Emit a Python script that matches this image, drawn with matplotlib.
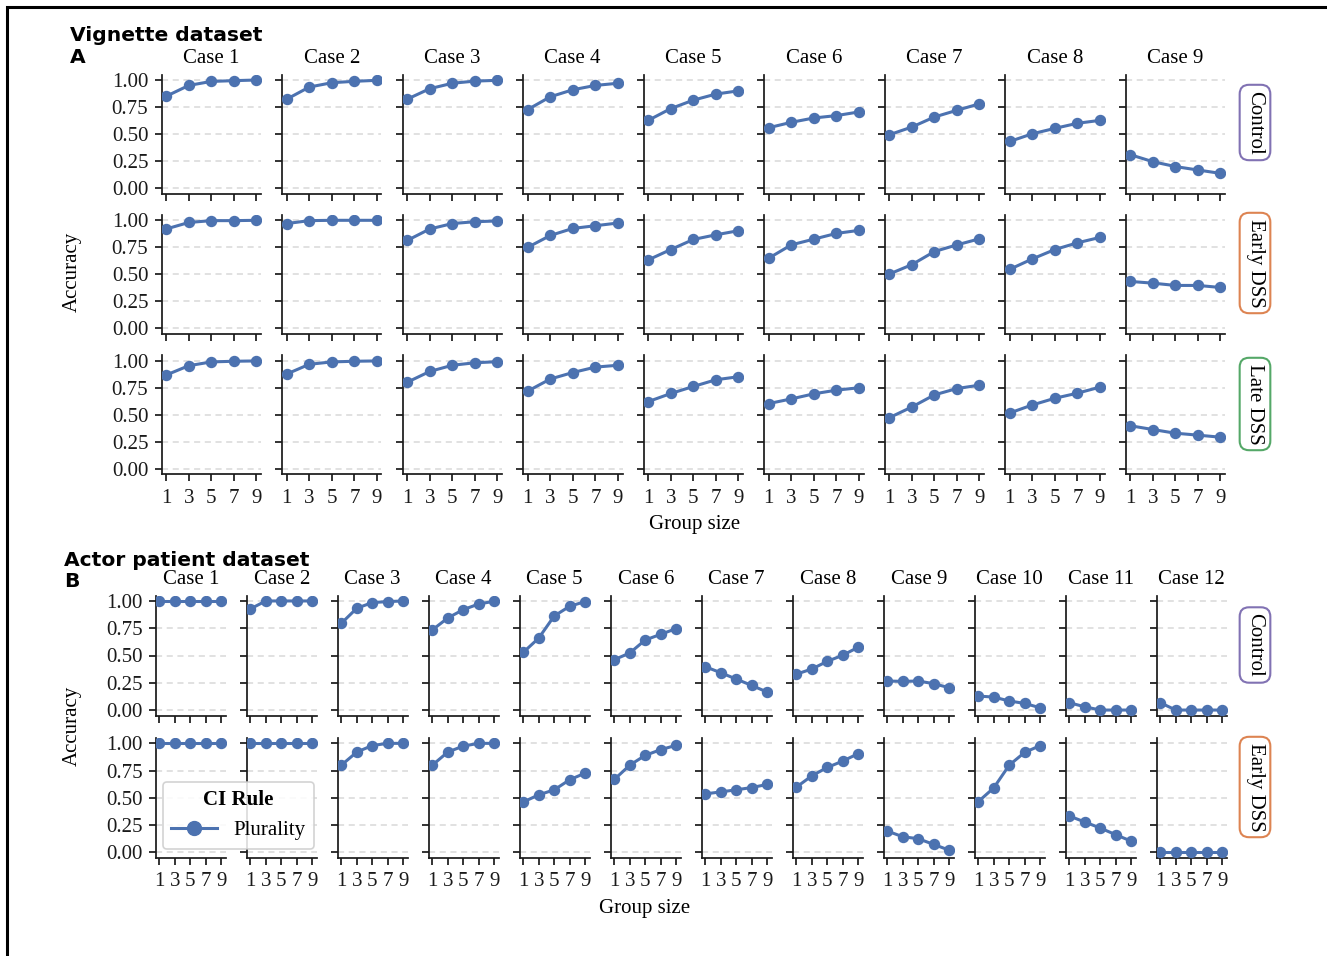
import matplotlib
matplotlib.use("Agg")
import matplotlib.pyplot as plt
from matplotlib.lines import Line2D

# ---------------- data ----------------
group_sizes = [1, 3, 5, 7, 9]
x_ticks = [1, 3, 5, 7, 9]
y_ticks = [0.0, 0.25, 0.5, 0.75, 1.0]

vig_cases = [f"Case {i}" for i in range(1, 10)]
act_cases = [f"Case {i}" for i in range(1, 13)]

vig_rows = ["Control", "Early DSS", "Late DSS"]
act_rows = ["Control", "Early DSS"]

vig_control = [
    [0.85, 0.95, 0.987, 0.994, 1.0],
    [0.823, 0.935, 0.975, 0.988, 0.997],
    [0.823, 0.92, 0.97, 0.99, 0.997],
    [0.727, 0.845, 0.91, 0.95, 0.97],
    [0.627, 0.736, 0.814, 0.87, 0.90],
    [0.559, 0.609, 0.649, 0.671, 0.705],
    [0.494, 0.565, 0.658, 0.72, 0.78],
    [0.432, 0.503, 0.553, 0.60, 0.627],
    [0.31, 0.245, 0.20, 0.168, 0.137],
]
vig_early = [
    [0.92, 0.98, 0.997, 0.997, 1.0],
    [0.97, 0.997, 1.0, 1.0, 1.0],
    [0.814, 0.92, 0.97, 0.987, 0.994],
    [0.75, 0.86, 0.925, 0.95, 0.975],
    [0.634, 0.73, 0.823, 0.866, 0.904],
    [0.65, 0.773, 0.826, 0.879, 0.907],
    [0.503, 0.59, 0.711, 0.773, 0.829],
    [0.547, 0.643, 0.73, 0.792, 0.842],
    [0.435, 0.419, 0.398, 0.398, 0.379],
]
vig_late = [
    [0.867, 0.953, 0.988, 0.994, 0.997],
    [0.876, 0.966, 0.988, 0.994, 0.997],
    [0.80, 0.90, 0.957, 0.98, 0.99],
    [0.718, 0.83, 0.89, 0.94, 0.957],
    [0.621, 0.696, 0.761, 0.823, 0.851],
    [0.603, 0.646, 0.693, 0.727, 0.749],
    [0.472, 0.571, 0.683, 0.742, 0.773],
    [0.516, 0.59, 0.652, 0.699, 0.755],
    [0.398, 0.363, 0.329, 0.311, 0.292],
]
act_control = [
    [1.0, 1.0, 1.0, 1.0, 1.0],
    [0.927, 1.0, 1.0, 1.0, 1.0],
    [0.795, 0.933, 0.985, 0.994, 1.0],
    [0.734, 0.844, 0.92, 0.972, 0.997],
    [0.529, 0.66, 0.862, 0.951, 0.994],
    [0.462, 0.523, 0.642, 0.694, 0.746],
    [0.397, 0.342, 0.284, 0.226, 0.165],
    [0.329, 0.376, 0.446, 0.502, 0.575],
    [0.266, 0.263, 0.266, 0.242, 0.205],
    [0.128, 0.119, 0.083, 0.061, 0.021],
    [0.067, 0.03, 0.0, 0.0, 0.0],
    [0.067, 0.0, 0.0, 0.0, 0.0],
]
act_early = [
    [1.0, 1.0, 1.0, 1.0, 1.0],
    [1.0, 1.0, 1.0, 1.0, 1.0],
    [0.80, 0.92, 0.98, 1.0, 1.0],
    [0.80, 0.92, 0.975, 1.0, 1.0],
    [0.463, 0.528, 0.574, 0.666, 0.727],
    [0.669, 0.80, 0.89, 0.942, 0.982],
    [0.537, 0.555, 0.574, 0.595, 0.623],
    [0.598, 0.702, 0.779, 0.837, 0.905],
    [0.196, 0.144, 0.126, 0.074, 0.021],
    [0.466, 0.592, 0.80, 0.917, 0.979],
    [0.334, 0.279, 0.224, 0.163, 0.104],
    [0.0, 0.0, 0.0, 0.0, 0.0],
]

row_colors = {"Control": "#8172b3", "Early DSS": "#dd8452", "Late DSS": "#55a868"}
line_color = "#4c72b0"

# ---------------- style ----------------
FS = 15
plt.rcParams["font.family"] = ["Liberation Serif", "DejaVu Serif"]
plt.rcParams["font.size"] = FS
plt.rcParams["axes.linewidth"] = 1.25
plt.rcParams["xtick.major.width"] = 1.25
plt.rcParams["ytick.major.width"] = 1.25
plt.rcParams["xtick.major.size"] = 5
plt.rcParams["ytick.major.size"] = 5

W, H = 1327, 956
fig = plt.figure(figsize=(W / 100, H / 100), dpi=100)


def add_ax(left, top, width, height):
    return fig.add_axes([left / W, 1 - (top + height) / H, width / W, height / H])


def style_panel(ax, values, title, show_y, xlim):
    ax.plot(group_sizes, values, color=line_color, lw=2.2, marker="o",
            markersize=7.2, zorder=3)
    ax.set_xlim(*xlim)
    ax.set_ylim(-0.05, 1.05)
    ax.set_xticks(x_ticks)
    ax.set_yticks(y_ticks)
    ax.yaxis.grid(True, ls=(0, (4, 3)), color="#d9d9d9", lw=1.1, zorder=0)
    ax.set_axisbelow(True)
    for s in ("top", "right"):
        ax.spines[s].set_visible(False)
    ax.spines["left"].set_color("#1a1a1a")
    ax.spines["bottom"].set_color("#1a1a1a")
    ax.tick_params(colors="#1a1a1a", labelsize=FS)
    ax.tick_params(axis="x", pad=5.5)
    ax.tick_params(axis="y", pad=4.5)
    if show_y:
        ax.set_yticklabels([f"{v:.2f}" for v in y_ticks])
    else:
        ax.tick_params(axis="y", labelleft=False)
    if title:
        ax.set_title(title, fontsize=FS, pad=8.6)


def row_label(text, x, y):
    fig.text(x / W, 1 - y / H, text, rotation=-90, ha="center", va="center",
             fontsize=FS,
             bbox=dict(boxstyle="round,pad=0.28,rounding_size=0.45",
                       fc="white", ec=row_colors[text], lw=1.5))


# ---------------- panel A ----------------
A_left0, A_pitch, A_w = 161.5, 120.5, 99.5
A_top0, A_rpitch, A_h = 74.6, 140.3, 119
A_data = [vig_control, vig_early, vig_late]
A_label_y = [122.5, 263, 404]
for r, rows in enumerate(A_data):
    for c in range(9):
        ax = add_ax(A_left0 + c * A_pitch, A_top0 + r * A_rpitch, A_w, A_h)
        style_panel(ax, rows[c], vig_cases[c] if r == 0 else None, c == 0,
                    (0.58, 9.4))
        if r < 2:
            ax.tick_params(axis="x", labelbottom=False)
    row_label(vig_rows[r], 1255, A_label_y[r])

# ---------------- panel B ----------------
B_left0, B_pitch, B_w = 155.7, 91, 70
B_top0, B_rpitch, B_h = 595.5, 142.4, 120
B_data = [act_control, act_early]
B_label_y = [645, 787]
for r, rows in enumerate(B_data):
    for c in range(12):
        ax = add_ax(B_left0 + c * B_pitch, B_top0 + r * B_rpitch, B_w, B_h)
        style_panel(ax, rows[c], act_cases[c] if r == 0 else None, c == 0,
                    (0.53, 9.6))
        if r < 1:
            ax.tick_params(axis="x", labelbottom=False)
    row_label(act_rows[r], 1255, B_label_y[r])

# ---------------- texts ----------------
sans_bold = dict(family=["DejaVu Sans"], weight="bold", fontsize=14.6)
fig.text(70 / W, 1 - 41 / H, "Vignette dataset", ha="left", va="baseline", **sans_bold)
fig.text(70 / W, 1 - 63 / H, "A", ha="left", va="baseline", **sans_bold)
fig.text(64 / W, 1 - 566 / H, "Actor patient dataset", ha="left", va="baseline", **sans_bold)
fig.text(64 / W, 1 - 587 / H, "B", ha="left", va="baseline", **sans_bold)

fig.text(72 / W, 1 - 272 / H, "Accuracy", rotation=90, ha="center", va="center", fontsize=FS)
fig.text(72 / W, 1 - 726 / H, "Accuracy", rotation=90, ha="center", va="center", fontsize=FS)
fig.text(695 / W, 1 - 525 / H, "Group size", ha="center", va="center", fontsize=FS)
fig.text(645 / W, 1 - 908 / H, "Group size", ha="center", va="center", fontsize=FS)

# legend
handle = Line2D([], [], color=line_color, lw=2.2, marker="o", markersize=10)
leg = fig.legend([handle], ["Plurality"], title="CI Rule",
                 loc="upper left", bbox_to_anchor=(163 / W, 1 - 782 / H),
                 borderaxespad=0, fontsize=FS, title_fontsize=FS,
                 frameon=True, fancybox=True, framealpha=0.85,
                 edgecolor="#cccccc", handlelength=2.2, borderpad=0.4)
leg.get_title().set_fontweight("bold")
leg.get_frame().set_linewidth(1.2)

# outer frame (top and left edges visible)
frame = plt.Rectangle((7 / W, -0.05), 1.2, 1 - 7 / H + 0.05, transform=fig.transFigure,
                      fill=False, ec="black", lw=2.2, zorder=10)
fig.patches.append(frame)

fig.savefig("out.png", dpi=100)
